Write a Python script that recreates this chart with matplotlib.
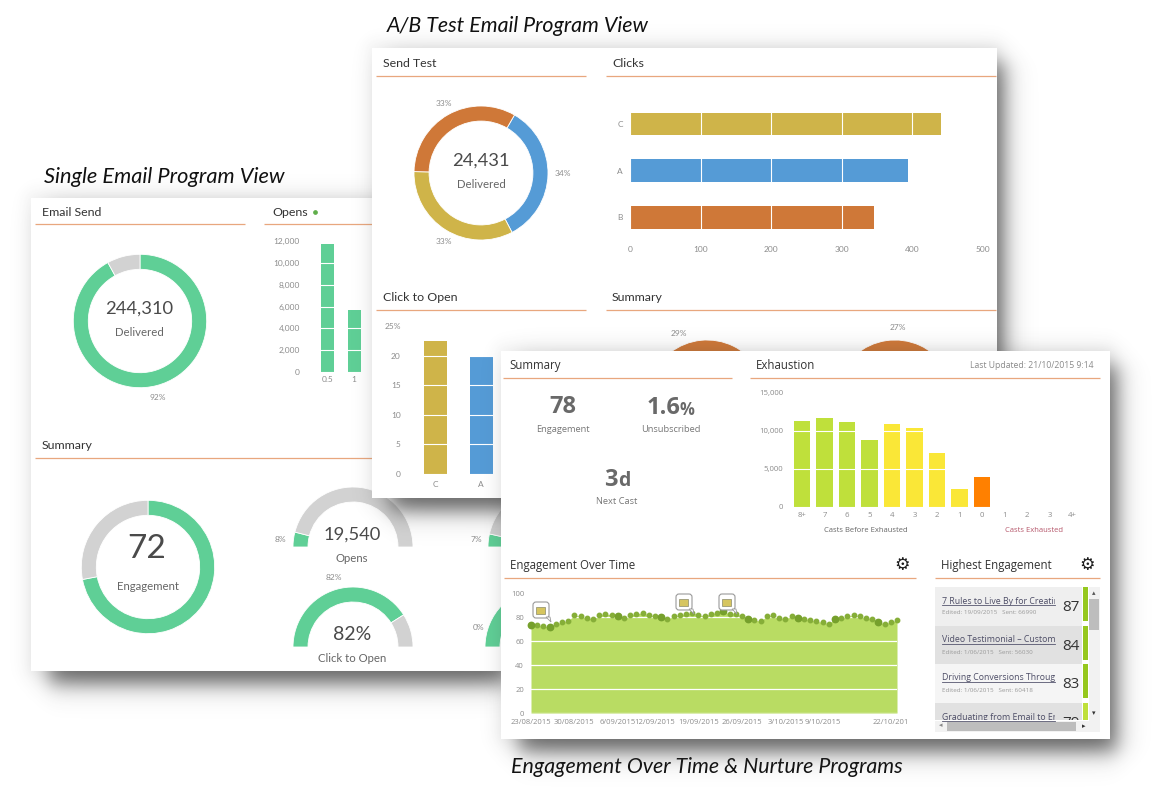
#!/usr/bin/env python3
# -*- coding: utf-8 -*-
"""
Email program dashboards: single send, A/B test and nurture views,
stacked as three overlapping cards with drop shadows.
"""

import numpy as np
import matplotlib
matplotlib.use('Agg')
import matplotlib.pyplot as plt
from matplotlib.patches import Rectangle, FancyBboxPatch, Polygon

W, H = 1169, 800

# single email card
send_split = [92, 8]
opens_labels = ['0.5', '1']
opens_values = [11700, 5680]
opens_ticks = [0, 2000, 4000, 6000, 8000, 10000, 12000]
engagement_split = [72, 28]
gauge_opens = [8, 92]
gauge_click = [82, 18]
gauge_hidden_a = [7, 93]
gauge_hidden_b = [100, 0]

# A/B card
test_split = [34, 33, 33]
clicks_labels = ['B', 'A', 'C']
clicks_values = [345, 394, 441]
cto_labels = ['C', 'A']
cto_values = [22.5, 20.0]

# nurture card
exh_labels = ['8+', '7', '6', '5', '4', '3', '2', '1', '0', '1', '2', '3', '4+']
exh_values = [11230, 11700, 11180, 8770, 10830, 10350, 7100, 2280, 3860, 0, 0, 0, 0]
eng_values = [73.6, 73, 72.5, 71.7, 74.5, 75.6, 76.7, 81.7, 80.6, 79.4, 78.3, 81.7,
              82.5, 81.7, 80.8, 79.4, 81.7, 82.5, 83.6, 81.7, 80.8, 79.7, 78.3, 80.6,
              81.7, 82.5, 83.6, 81.7, 80.8, 82.8, 83.6, 84.7, 82.5, 82.8, 80.8, 78.6,
              77.5, 76.4, 80.6, 81.7, 79.4, 78.3, 80.8, 79.4, 78.6, 77.5, 76.4, 75.6,
              74.5, 78.6, 79.4, 80.6, 81.7, 80.6, 79.4, 78.6, 75.6, 74.5, 75.6, 77.5]
eng_big_points = [0, 3, 14, 21, 31, 35, 43, 49, 56]
eng_tick_pos = [0, 7, 14, 20, 27, 34, 41, 47, 58]
eng_tick_labels = ['23/08/2015', '30/08/2015', '6/09/2015', '12/09/2015', '19/09/2015',
                   '26/09/2015', '3/10/2015', '9/10/2015', '22/10/201']
top_titles = ['7 Rules to Live By for Creating', 'Video Testimonial – Customer',
              'Driving Conversions Through', 'Graduating from Email to Engagement']
top_meta = ['Edited: 19/09/2015   Sent: 66990', 'Edited: 1/06/2015   Sent: 56030',
            'Edited: 1/06/2015   Sent: 60418', '']
top_scores = [87, 84, 83, 79]

GREEN = '#5FCF96'
GREY = '#D2D2D2'
YELLOW = '#CFB449'
BLUE = '#559BD6'
ORANGE = '#CF7838'
RULE = '#E8A77E'
TICK = '#8C8C8C'
DARK = '#4A4A4A'

plt.rcParams['font.family'] = ['Lato', 'DejaVu Sans']
fig = plt.figure(figsize=(W / 100, H / 100), dpi=100, facecolor='white')


def layer(z):
    ax = fig.add_axes([0, 0, 1, 1], zorder=z)
    ax.set_xlim(0, W)
    ax.set_ylim(H, 0)
    ax.axis('off')
    ax.patch.set_visible(False)
    return ax


def pix_axes(x0, y0, x1, y1, z):
    ax = fig.add_axes([x0 / W, 1 - y1 / H, (x1 - x0) / W, (y1 - y0) / H], zorder=z)
    ax.patch.set_visible(False)
    return ax


def soft_box(x0, y0, x1, y1, s):
    xx, yy = np.meshgrid(np.arange(W) + 0.5, np.arange(H) + 0.5)
    fx = 0.5 * (np.tanh((xx - x0) / s) - np.tanh((xx - x1) / s))
    fy = 0.5 * (np.tanh((yy - y0) / s) - np.tanh((yy - y1) / s))
    return fx * fy


def card(z, x0, y0, x1, y1):
    ax = layer(z)
    a = 0.8 * soft_box(x0 + 18, y0 + 14, x1 + 7, y1 + 13, 13)
    a = 1 - (1 - a) * (1 - 0.08 * soft_box(x0 - 4, y0 - 6, x1 + 4, y1 + 4, 9))
    rgba = np.zeros((H, W, 4))
    rgba[..., :3] = 0.25
    rgba[..., 3] = a
    ax.imshow(rgba, extent=(0, W, H, 0), aspect='auto', zorder=0, interpolation='bilinear')
    ax.set_xlim(0, W)
    ax.set_ylim(H, 0)
    ax.add_patch(Rectangle((x0, y0), x1 - x0, y1 - y0, fc='white', ec='none', zorder=1))
    return ax


def head(ax, x, y, s, x0, x1, rule_y, size=8.9, **kw):
    ax.text(x, y + 0.5, s, ha='left', va='center', fontsize=size, color='#333333', zorder=3, **kw)
    ax.plot([x0, x1], [rule_y, rule_y], color=RULE, lw=0.9, zorder=3, solid_capstyle='butt')


def ring(cx, cy, r, values, colors, z, hole=0.775, start=90):
    ax = pix_axes(cx - r, cy - r, cx + r, cy + r, z)
    ax.pie(values, colors=colors, startangle=start, counterclock=False, radius=1,
           wedgeprops=dict(width=1 - hole, edgecolor='white', linewidth=0.6))
    ax.set_xlim(-1, 1)
    ax.set_ylim(-1, 1)
    return ax


def gauge(cx, cy, r, values, colors, z):
    # half ring: the lower half of the pie is not painted
    ax = ring(cx, cy, r, list(values) + [sum(values)], list(colors) + ['none'], z, hole=0.75, start=180)
    ax.patches[-1].set_visible(False)
    return ax


def bare(ax, size=6.0):
    for sp in ax.spines.values():
        sp.set_visible(False)
    ax.tick_params(length=0, labelsize=size, labelcolor=TICK, pad=3)


def small(ax, x, y, s, size=6.0, color=TICK, ha='center', **kw):
    ax.text(x, y, s, ha=ha, va='center', fontsize=size, color=color, zorder=3, **kw)


# ---- outer captions
back = layer(0)
for x, y, s, fs in [(44, 177, 'Single Email Program View', 15.7),
                    (387, 26, 'A/B Test Email Program View', 15.4),
                    (511, 767, 'Engagement Over Time & Nurture Programs', 15.4)]:
    back.text(x, y, s, ha='left', va='center', fontsize=fs, style='italic', color='#111111', zorder=5)

# ---- single email card
c1 = card(10, 31, 198, 501, 671)
head(c1, 42, 212, 'Email Send', 35, 245, 224)
head(c1, 272, 212, 'Opens', 264, 372, 224)
c1.plot([315], [211.5], 'o', ms=2.4, color='#5FAE4A', zorder=3)
head(c1, 42, 445, 'Summary', 35, 372, 457.5)

ring(140, 321, 66.7, send_split, [GREEN, GREY], 11)
c1.text(139, 309, '244,310', ha='center', va='center', fontsize=13.2, color=DARK, zorder=3)
c1.text(139, 333, 'Delivered', ha='center', va='center', fontsize=8.2, color='#666666', zorder=3)
small(c1, 158, 397, '92%')

ax = pix_axes(309.5, 241, 370.5, 372, 11)
ax.bar(range(2), opens_values, width=0.49, color=GREEN, zorder=1)
ax.set_xlim(-0.68, 1.62)
ax.set_ylim(0, 12000)
ax.set_yticks(opens_ticks)
ax.set_yticklabels([f'{v:,}' for v in opens_ticks])
ax.set_xticks(range(2))
ax.set_xticklabels(opens_labels)
bare(ax)
ax.tick_params(axis='y', pad=7)
ax.grid(axis='y', color='white', lw=0.8, zorder=2)
ax.set_axisbelow(False)

ring(148, 567, 66.7, engagement_split, [GREEN, GREY], 11)
c1.text(147, 549.5, '72', ha='center', va='center', fontsize=24, color=DARK, zorder=3)
c1.text(148, 586, 'Engagement', ha='center', va='center', fontsize=8.2, color='#666666', zorder=3)

gauge(353, 547, 60, gauge_opens, [GREEN, GREY], 11)
c1.text(352, 535, '19,540', ha='center', va='center', fontsize=13.2, color=DARK, zorder=3)
c1.text(352, 559, 'Opens', ha='center', va='center', fontsize=8.2, color='#666666', zorder=3)
small(c1, 280, 539, '8%')
gauge(353, 647, 60, gauge_click, [GREEN, GREY], 11)
c1.text(352, 634.5, '82%', ha='center', va='center', fontsize=14, color=DARK, zorder=3)
c1.text(352, 659, 'Click to Open', ha='center', va='center', fontsize=8.2, color='#666666', zorder=3)
small(c1, 334, 578, '82%')
gauge(548, 547, 60, gauge_hidden_a, [GREEN, GREY], 11)
small(c1, 476, 540, '7%')
gauge(545, 647, 60, gauge_hidden_b, [GREEN, GREY], 11)
small(c1, 479, 627, '0%')

# ---- A/B card
c2 = card(20, 372, 48, 997, 498)
head(c2, 382.6, 63, 'Send Test', 376, 586, 76)
head(c2, 612, 63, 'Clicks', 606, 996, 76)
head(c2, 382.6, 297, 'Click to Open', 376, 586, 309.5)
head(c2, 612, 297, 'Summary', 606, 996, 309.5)

ring(481, 173, 67, test_split, [BLUE, YELLOW, ORANGE], 21, hole=0.775, start=60)
c2.text(481, 161, '24,431', ha='center', va='center', fontsize=13.2, color=DARK, zorder=3)
c2.text(481, 184, 'Delivered', ha='center', va='center', fontsize=8.2, color='#666666', zorder=3)
small(c2, 444, 104, '33%')
small(c2, 563, 173, '34%')
small(c2, 444, 241, '33%')

ax = pix_axes(630, 96, 983, 238, 21)
ax.barh(range(3), clicks_values, height=0.49,
        color=[ORANGE, BLUE, YELLOW], zorder=1)
ax.set_xlim(0, 500)
ax.set_ylim(-0.44, 2.6)
ax.set_xticks([0, 100, 200, 300, 400, 500])
ax.set_yticks(range(3))
ax.set_yticklabels(clicks_labels)
bare(ax)
ax.tick_params(axis='x', pad=6)
ax.tick_params(axis='y', pad=5)
ax.grid(axis='x', color='white', lw=0.8, zorder=2)
ax.set_axisbelow(False)

ax = pix_axes(412, 326, 501, 474, 21)
ax.bar(range(2), cto_values, width=0.5, color=[YELLOW, BLUE], zorder=1)
ax.set_xlim(-0.5, 1.43)
ax.set_ylim(0, 25)
ax.set_yticks([0, 5, 10, 15, 20, 25])
ax.set_yticklabels(['0', '5', '10', '15', '20', '25%'])
ax.set_xticks(range(2))
ax.set_xticklabels(cto_labels)
bare(ax)
ax.tick_params(axis='y', pad=8)
ax.tick_params(axis='x', pad=5)
ax.grid(axis='y', color='white', lw=0.8, zorder=2)
ax.set_axisbelow(False)

# the two summary gauges mostly sit behind the nurture card
gauge(707, 400, 60, [29, 71], [GREY, ORANGE], 21)
small(c2, 679, 333, '29%')
gauge(895, 400, 60, [27, 73], [GREY, ORANGE], 21)
small(c2, 898, 328, '27%')

# ---- nurture card
plt.rcParams['font.family'] = ['Open Sans', 'DejaVu Sans']
c3 = card(30, 501, 351, 1110, 739)
head(c3, 509, 365, 'Summary', 503, 732, 377.5, size=8.3)
head(c3, 756, 365, 'Exhaustion', 750, 1100, 377.5, size=8.3)
c3.text(1094, 365, 'Last Updated: 21/10/2015 9:14', ha='right', va='center',
        fontsize=6.2, color='#8A8A8A', zorder=3)

STAT = '#696969'
c3.text(563, 407, '78', ha='center', va='center', fontsize=17, weight='bold', color=STAT, zorder=3)
c3.text(563, 429, 'Engagement', ha='center', va='center', fontsize=6.7, color='#777777', zorder=3)
c3.text(664, 408, '1.6', ha='center', va='center', fontsize=17, weight='bold', color=STAT, zorder=3)
c3.text(687, 410, '%', ha='center', va='center', fontsize=12, weight='bold', color=STAT, zorder=3)
c3.text(671, 429, 'Unsubscribed', ha='center', va='center', fontsize=6.7, color='#777777', zorder=3)
c3.text(611, 480.5, '3', ha='center', va='center', fontsize=17, weight='bold', color=STAT, zorder=3)
c3.text(624, 481.5, 'd', ha='center', va='center', fontsize=14, weight='bold', color=STAT, zorder=3)
c3.text(617, 501, 'Next Cast', ha='center', va='center', fontsize=6.7, color='#777777', zorder=3)

ax = pix_axes(790, 392.7, 1085, 506.7, 31)
exh_colors = ['#BFE03B'] * 4 + ['#FAE737'] * 4 + ['#FF8000'] + ['white'] * 4
ax.bar(range(13), exh_values, width=0.73, color=exh_colors, zorder=1)
ax.set_xlim((790 - 802) / 22.5, (1085 - 802) / 22.5)
ax.set_ylim(0, 15000)
ax.set_yticks([0, 5000, 10000, 15000])
ax.set_yticklabels(['0', '5,000', '10,000', '15,000'])
ax.set_xticks(range(13))
ax.set_xticklabels(exh_labels)
bare(ax, size=5.6)
ax.tick_params(axis='y', pad=5)
ax.tick_params(axis='x', pad=4)
ax.grid(axis='y', color='white', lw=0.8, zorder=2)
ax.set_axisbelow(False)
small(c3, 866, 530, 'Casts Before Exhausted', size=5.5, color='#666666')
small(c3, 1034, 530, 'Casts Exhausted', size=5.5, color='#B5566A')

head(c3, 510, 565, 'Engagement Over Time', 504, 916, 578, size=8.3)
head(c3, 941, 565, 'Highest Engagement', 935, 1100, 578, size=8.3)

ax = pix_axes(531, 593, 897, 713, 31)
days = np.arange(len(eng_values))
ax.fill_between(days, eng_values, color='#B9DC63', lw=0, zorder=1)
ax.plot(days, eng_values, 'o', ms=3.2, color='#86AE38', clip_on=False, zorder=3)
ax.plot(days[eng_big_points], np.array(eng_values)[eng_big_points], 'o', ms=4.6,
        color='#76A02C', clip_on=False, zorder=3)
ax.set_xlim(0, 59)
ax.set_ylim(0, 100)
ax.set_yticks([0, 20, 40, 60, 80, 100])
ax.set_xticks(eng_tick_pos)
ax.set_xticklabels(eng_tick_labels)
bare(ax, size=5.5)
ax.tick_params(axis='y', pad=5)
ax.tick_params(axis='x', pad=4)
ax.grid(axis='y', color='white', lw=0.9, zorder=2)

# note bubbles above the engagement line, plus the gear buttons
c3t = layer(33)
for bx, by in [(541, 610), (684, 602), (727, 602)]:
    c3t.add_patch(FancyBboxPatch((bx - 6, by - 6), 12, 12, boxstyle='round,pad=2,rounding_size=3',
                                 fc='white', ec='#9A9A9A', lw=0.8, zorder=3))
    c3t.add_patch(Polygon([(bx + 5, by + 7), (bx + 9, by + 7), (bx + 10, by + 12)],
                          fc='white', ec='#9A9A9A', lw=0.6, zorder=3))
    c3t.add_patch(Rectangle((bx - 5, by - 3), 9, 6.5, fc='#D6C55F', ec='#8A8A6A', lw=0.5, zorder=4))
for gx in [902, 1087]:
    c3t.text(gx, 565, '\u2699', ha='center', va='center', fontsize=12.5, family='DejaVu Sans',
             color='#1E1E1E', weight='bold')

# scrolling list of best programs
row_tops = [587, 626, 664, 703]
row_fill = ['#EFEFEF', '#E1E1E1', '#F5F5F5', '#E1E1E1']
bar_fill = ['#96C81E', '#96C81E', '#96C81E', '#BFE03B']
list_clip = Rectangle((935, 587), 147, 133, transform=c3.transData)
name_clip = Rectangle((935, 587), 120, 133, transform=c3.transData)
for i, y in enumerate(row_tops):
    bottom = min(y + 38.5, 720)
    c3.add_patch(Rectangle((935, y), 147, bottom - y, fc=row_fill[i], ec='none', zorder=2))
    c3.add_patch(Rectangle((1083, y), 5, min(33.5, 720 - y), fc=bar_fill[i], ec='none', zorder=2))
    t = c3.text(942, y + 14, top_titles[i], ha='left', va='center', fontsize=6.3,
                color='#4D4D66', zorder=3, clip_on=True)
    t.set_clip_path(name_clip)
    c3.plot([942, 1055], [y + 17.5, y + 17.5], color='#55556E', lw=0.6, zorder=3)
    if top_meta[i]:
        c3.text(942, y + 26, top_meta[i], ha='left', va='center', fontsize=4.5,
                color='#9A9A9A', zorder=3)
    t = c3.text(1071, y + 20.5, str(top_scores[i]), ha='center', va='center', fontsize=11,
                color='#333333', zorder=3, clip_on=True)
    t.set_clip_path(list_clip)

c3.add_patch(Rectangle((1089, 587), 11, 134, fc='#F2F2F2', ec='none', zorder=2))
c3.add_patch(Rectangle((1089, 599), 10, 31, fc='#BDBDBD', ec='none', zorder=3))
c3.add_patch(Rectangle((935, 721), 165, 11, fc='#F2F2F2', ec='none', zorder=2))
c3.add_patch(Rectangle((947, 722), 129, 9, fc='#BDBDBD', ec='none', zorder=3))
c3.text(1094, 594, '\u25b4', ha='center', va='center', fontsize=5, color='#555555', zorder=4)
c3.text(1094, 714, '\u25be', ha='center', va='center', fontsize=5, color='#333333', zorder=4)
c3.text(941, 726, '\u25c2', ha='center', va='center', fontsize=5, color='#888888', zorder=4)
c3.text(1084, 727, '\u25b8', ha='center', va='center', fontsize=5, color='#333333', zorder=4)

fig.savefig('out.png', dpi=100)
